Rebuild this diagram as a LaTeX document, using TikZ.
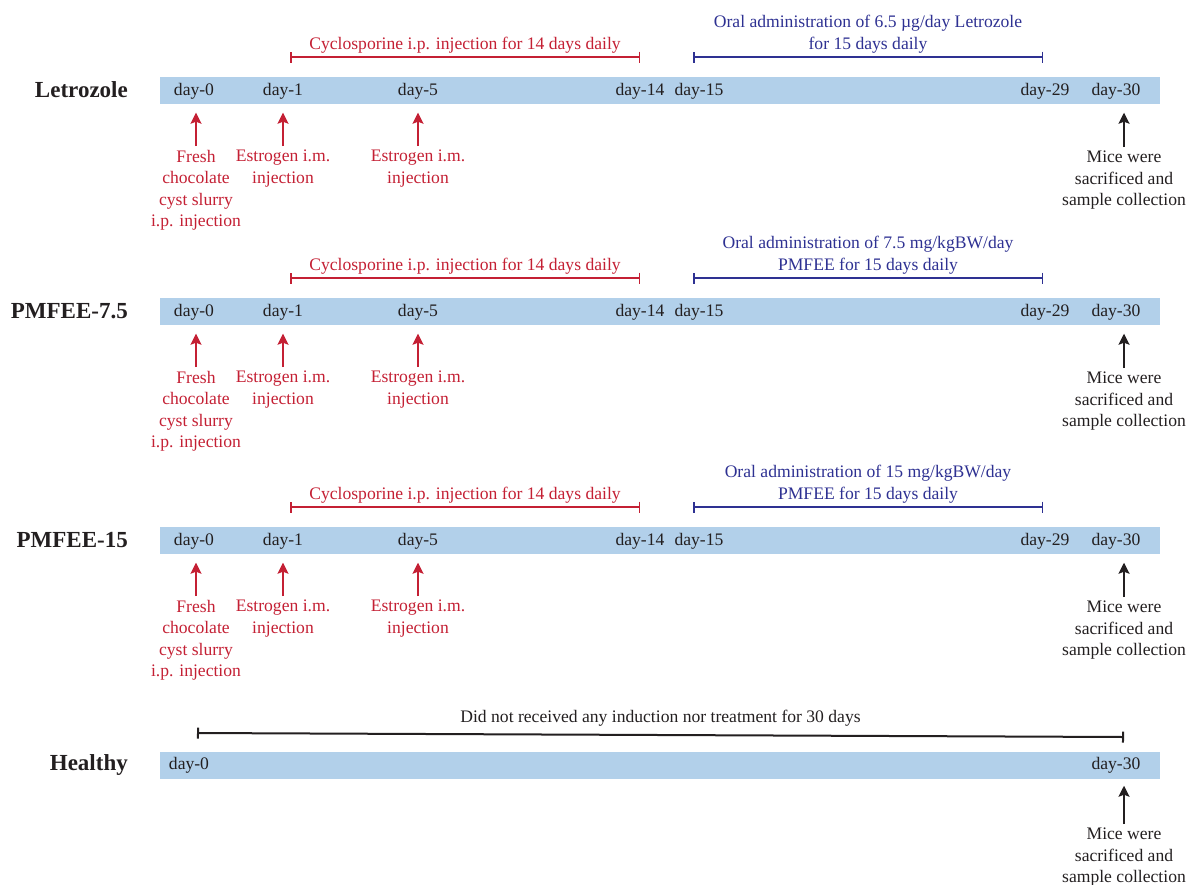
\documentclass[tikz,border=0pt]{standalone}
\usepackage{fontspec}
\setmainfont{Liberation Serif}
\usetikzlibrary{arrows.meta,positioning,calc}
\definecolor{cred}{RGB}{196,32,52}
\definecolor{cblue}{RGB}{46,49,146}
\definecolor{cbar}{RGB}{178,208,234}
\definecolor{ctxt}{RGB}{35,31,32}

\begin{document}
\begin{tikzpicture}[x=1pt, y=-1pt, font=\fontsize{17.6}{21.3}\selectfont,
  barbox/.style={fill=cbar, minimum width=1000pt, minimum height=27pt, inner sep=0},
  grp/.style={font=\fontsize{23}{26}\selectfont\bfseries, anchor=east, inner sep=0, text=ctxt},
  daylbl/.style={inner sep=0, text=ctxt},
  captxt/.style={align=center, anchor=north, inner sep=0},
  uparrow/.style={-{Stealth[length=11pt,width=11pt,inset=2pt]}, line width=2pt, shorten <=4pt, shorten >=9pt},
  spanline/.style={{Bar[width=11pt]}-{Bar[width=11pt]}, line width=1.5pt}]
\useasboundingbox (0,0) rectangle (1188,884);

% treated groups
\foreach \y/\g/\oral/\i in {0/Letrozole/{Oral administration of 6.5 µg/day Letrozole\\for 15 days daily}/a,
    221/PMFEE-7.5/{Oral administration of 7.5 mg/kgBW/day\\PMFEE for 15 days daily}/b,
    450/PMFEE-15/{Oral administration of 15 mg/kgBW/day\\PMFEE for 15 days daily}/c} {
  \node[barbox] (bar\i) at (660,90+\y) {};
  \node[grp] (g\i) at (128,90+\y) {\g};
  \node[daylbl] (d0\i)  at (194,91+\y)  {day-0};
  \node[daylbl] (d1\i)  at (283,91+\y)  {day-1};
  \node[daylbl] (d5\i)  at (418,91+\y)  {day-5};
  \node[daylbl] (d14\i) at (640,91+\y)  {day-14};
  \node[daylbl] (d15\i) at (699,91+\y)  {day-15};
  \node[daylbl] (d29\i) at (1045,91+\y) {day-29};
  \node[daylbl] (d30\i) at (1116,91+\y) {day-30};
  \coordinate (cs\i) at (290,57+\y);
  \coordinate (ce\i) at (640,57+\y);
  \coordinate (os\i) at (693,57+\y);
  \coordinate (oe\i) at (1043,57+\y);
  \draw[spanline,cred] (cs\i) -- (ce\i) node[midway,above,text=cred] {Cyclosporine i.p. injection for 14 days daily};
  \draw[spanline,cblue] (os\i) -- (oe\i) node[midway,above,align=center,text=cblue] {\oral};
  \node[captxt,text=cred] (c0\i) at (196,150+\y) {Fresh\\chocolate\\cyst slurry\\i.p. injection};
  \node[captxt,text=cred] (c1\i) at (283,150+\y) {Estrogen i.m.\\injection};
  \node[captxt,text=cred] (c5\i) at (418,150+\y) {Estrogen i.m.\\injection};
  \node[captxt,text=ctxt] (m\i) at (1124,151+\y) {Mice were\\sacrificed and\\sample collection};
  \draw[uparrow,cred] (c0\i.north) -- (c0\i.north |- bar\i.south);
  \draw[uparrow,cred] (c1\i.north) -- (c1\i.north |- bar\i.south);
  \draw[uparrow,cred] (c5\i.north) -- (c5\i.north |- bar\i.south);
  \draw[uparrow,ctxt] (m\i.north) -- (m\i.north |- bar\i.south);
}

% healthy group
\node[barbox] (barh) at (660,765) {};
\node[grp] (gh) at (128,765) {Healthy};
\node[daylbl] (dh0) at (189,765) {day-0};
\node[daylbl] (dh30) at (1116,765) {day-30};
\coordinate (hs) at (197,733);
\coordinate (he) at (1124,737);
\draw[spanline,ctxt,line width=2pt] (hs) -- (he) node[midway,above=4pt,text=ctxt] {Did not received any induction nor treatment for 30 days};
\node[captxt,text=ctxt] (mh) at (1124,828) {Mice were\\sacrificed and\\sample collection};
\draw[uparrow,ctxt,shorten >=7pt] (mh.north) -- (mh.north |- barh.south);
\end{tikzpicture}
\end{document}
